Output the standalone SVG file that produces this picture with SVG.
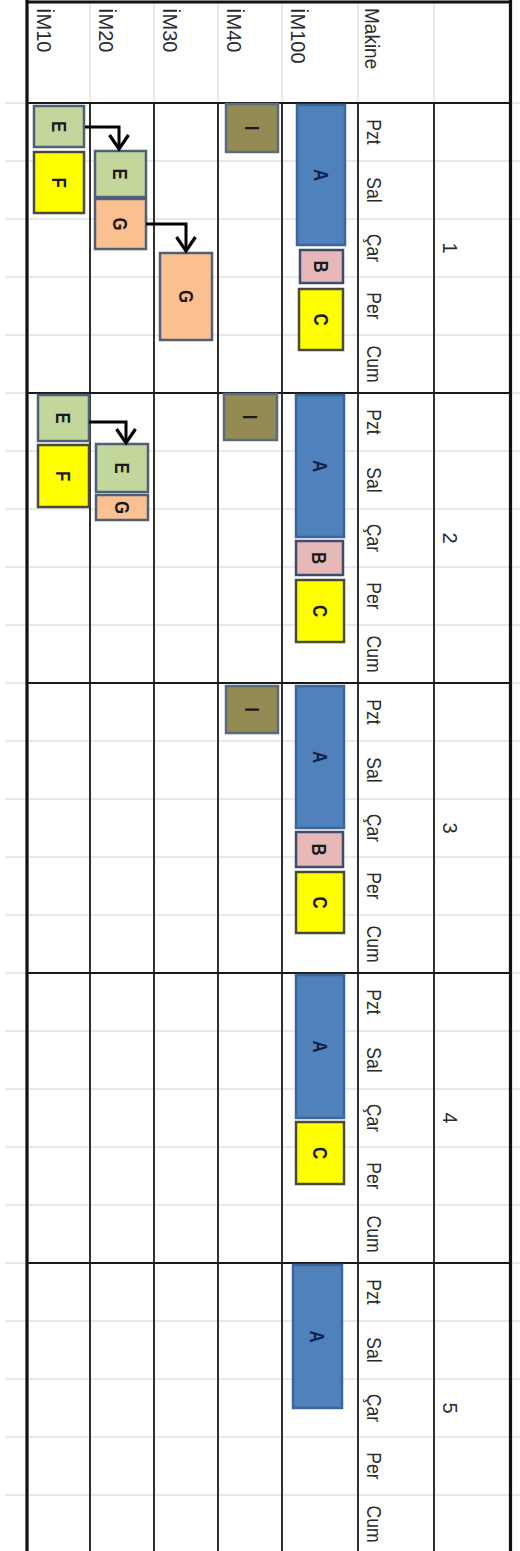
<svg xmlns="http://www.w3.org/2000/svg" width="520" height="1551" viewBox="0 0 520 1551">
<style>
.grid{stroke:#d4d4d4;stroke-width:1;fill:none}
.bk{stroke:#1a1a1a;stroke-width:1.8;fill:none}
.thick{stroke:#111;stroke-width:3.2;fill:none}
.hdr{font-family:"Liberation Sans",Arial,sans-serif;font-size:20px;fill:#2b2b2b}
.day{font-family:"Liberation Sans",Arial,sans-serif;font-size:20px;fill:#2b2b2b;text-anchor:middle}
.lbl{font-family:"Liberation Sans",Arial,sans-serif;font-weight:bold;font-size:21px;text-anchor:middle;fill:#1a1a1a}
.lblA{fill:#0f1f45}
.a{fill:#4f81bd;stroke:#3d6596;stroke-width:2.5}
.b{fill:#e6b9b8;stroke:#3f4d6b;stroke-width:2.5}
.c{fill:#ffff00;stroke:#4a4a3a;stroke-width:2.5}
.e{fill:#c3d69b;stroke:#4f5f78;stroke-width:2.5}
.g{fill:#fac090;stroke:#4f5f78;stroke-width:2.5}
.i{fill:#948a54;stroke:#5b6b7b;stroke-width:2.5}
.conn{fill:none;stroke:#000;stroke-width:3}
</style>
<defs>
<marker id="chev" viewBox="-16 -11 18 22" refX="0" refY="0" markerWidth="18" markerHeight="22" markerUnits="userSpaceOnUse" orient="auto" overflow="visible">
<path d="M-14,-9.5 L0,0 L-14,9.5" fill="none" stroke="#000" stroke-width="3.2"/>
</marker>
</defs>
<rect x="0" y="0" width="520" height="1551" fill="#fff"/>
<g id="grid">
<path class="grid" d="M5,103H520M5,161H520M5,219H520M5,277H520M5,335H520M5,393H520M5,451H520M5,509H520M5,567H520M5,625H520M5,683H520M5,741H520M5,799H520M5,857H520M5,915H520M5,973H520M5,1031H520M5,1089H520M5,1147H520M5,1205H520M5,1263H520M5,1321H520M5,1379H520M5,1437H520M5,1495H520"/>
<path class="grid" d="M90,2V103M154,2V103M218,2V103M282,2V103M358,2V103M434,2V103"/>
<path class="bk" d="M90,103V1551M154,103V1551M218,103V1551M282,103V1551M358,103V1551M434,103V1551"/>
<path class="bk" d="M27,103H510M27,393H510M27,683H510M27,973H510M27,1263H510"/>
<path class="thick" d="M27,0V1551M510.5,0V1551M25.5,2H512"/>
</g>
<g id="headers">
<text class="hdr" transform="translate(37,8) rotate(90)">İM10</text>
<text class="hdr" transform="translate(99,8) rotate(90)">İM20</text>
<text class="hdr" transform="translate(163,8) rotate(90)">İM30</text>
<text class="hdr" transform="translate(227,8) rotate(90)">İM40</text>
<text class="hdr" transform="translate(291,8) rotate(90)">İM100</text>
<text class="hdr" transform="translate(365,8) rotate(90) scale(0.95,1)">Makine</text>
<text class="day" transform="translate(443,248) rotate(90)">1</text>
<text class="day" transform="translate(443,538) rotate(90)">2</text>
<text class="day" transform="translate(443,828) rotate(90)">3</text>
<text class="day" transform="translate(443,1118) rotate(90)">4</text>
<text class="day" transform="translate(443,1408) rotate(90)">5</text>
</g>
<g id="days">
<text class="day" transform="translate(367,132) rotate(90) scale(0.88,1)">Pzt</text>
<text class="day" transform="translate(367,190) rotate(90) scale(0.88,1)">Sal</text>
<text class="day" transform="translate(367,248) rotate(90) scale(0.88,1)">Çar</text>
<text class="day" transform="translate(367,306) rotate(90) scale(0.88,1)">Per</text>
<text class="day" transform="translate(367,364) rotate(90) scale(0.88,1)">Cum</text>
<text class="day" transform="translate(367,422) rotate(90) scale(0.88,1)">Pzt</text>
<text class="day" transform="translate(367,480) rotate(90) scale(0.88,1)">Sal</text>
<text class="day" transform="translate(367,538) rotate(90) scale(0.88,1)">Çar</text>
<text class="day" transform="translate(367,596) rotate(90) scale(0.88,1)">Per</text>
<text class="day" transform="translate(367,654) rotate(90) scale(0.88,1)">Cum</text>
<text class="day" transform="translate(367,712) rotate(90) scale(0.88,1)">Pzt</text>
<text class="day" transform="translate(367,770) rotate(90) scale(0.88,1)">Sal</text>
<text class="day" transform="translate(367,828) rotate(90) scale(0.88,1)">Çar</text>
<text class="day" transform="translate(367,886) rotate(90) scale(0.88,1)">Per</text>
<text class="day" transform="translate(367,944) rotate(90) scale(0.88,1)">Cum</text>
<text class="day" transform="translate(367,1002) rotate(90) scale(0.88,1)">Pzt</text>
<text class="day" transform="translate(367,1060) rotate(90) scale(0.88,1)">Sal</text>
<text class="day" transform="translate(367,1118) rotate(90) scale(0.88,1)">Çar</text>
<text class="day" transform="translate(367,1176) rotate(90) scale(0.88,1)">Per</text>
<text class="day" transform="translate(367,1234) rotate(90) scale(0.88,1)">Cum</text>
<text class="day" transform="translate(367,1292) rotate(90) scale(0.88,1)">Pzt</text>
<text class="day" transform="translate(367,1350) rotate(90) scale(0.88,1)">Sal</text>
<text class="day" transform="translate(367,1408) rotate(90) scale(0.88,1)">Çar</text>
<text class="day" transform="translate(367,1466) rotate(90) scale(0.88,1)">Per</text>
<text class="day" transform="translate(367,1524) rotate(90) scale(0.88,1)">Cum</text>
</g>
<g id="w1-A"><rect class="a" x="297" y="105" width="48" height="140"/><text class="lbl lblA" transform="translate(313.5,175) rotate(90) scale(0.8,1)">A</text></g>
<g id="w1-B"><rect class="b" x="300" y="250" width="43" height="33"/><text class="lbl" transform="translate(314,266.5) rotate(90) scale(0.8,1)">B</text></g>
<g id="w1-C"><rect class="c" x="299" y="289" width="44" height="61"/><text class="lbl" transform="translate(313.5,319.5) rotate(90) scale(0.8,1)">C</text></g>
<g id="w1-I"><rect class="i" x="226" y="104" width="52" height="48"/><text class="lbl" transform="translate(244.5,128) rotate(90) scale(0.8,1)">I</text></g>
<g id="w1-E10"><rect class="e" x="34" y="106" width="50" height="41"/><text class="lbl" transform="translate(51.5,126.5) rotate(90) scale(0.8,1)">E</text></g>
<g id="w1-F10"><rect class="c" x="34" y="152" width="50" height="61"/><text class="lbl" transform="translate(51.5,182.5) rotate(90) scale(0.8,1)">F</text></g>
<g id="w1-E20"><rect class="e" x="95" y="151" width="51" height="46"/><text class="lbl" transform="translate(113,174) rotate(90) scale(0.8,1)">E</text></g>
<g id="w1-G20"><rect class="g" x="95" y="199" width="51" height="50"/><text class="lbl" transform="translate(113,224) rotate(90) scale(0.8,1)">G</text></g>
<g id="w1-G30"><rect class="g" x="160" y="253" width="52" height="87"/><text class="lbl" transform="translate(178.5,296.5) rotate(90) scale(0.8,1)">G</text></g>
<g id="w2-E10"><rect class="e" x="38" y="395" width="51" height="46"/><text class="lbl" transform="translate(56,418) rotate(90) scale(0.8,1)">E</text></g>
<g id="w2-F10"><rect class="c" x="38" y="445" width="51" height="62"/><text class="lbl" transform="translate(56,476) rotate(90) scale(0.8,1)">F</text></g>
<g id="w2-E20"><rect class="e" x="96" y="444" width="52" height="48"/><text class="lbl" transform="translate(114.5,468) rotate(90) scale(0.8,1)">E</text></g>
<g id="w2-G20"><rect class="g" x="96" y="495" width="52" height="25"/><text class="lbl" transform="translate(114.5,507.5) rotate(90) scale(0.8,1)">G</text></g>
<g id="w2-I"><rect class="i" x="224" y="394" width="53" height="46"/><text class="lbl" transform="translate(243,417) rotate(90) scale(0.8,1)">I</text></g>
<g id="w2-A"><rect class="a" x="296" y="395" width="48" height="142"/><text class="lbl lblA" transform="translate(312.5,466) rotate(90) scale(0.8,1)">A</text></g>
<g id="w2-B"><rect class="b" x="296" y="541" width="47" height="34"/><text class="lbl" transform="translate(312,558) rotate(90) scale(0.8,1)">B</text></g>
<g id="w2-C"><rect class="c" x="296" y="580" width="48" height="62"/><text class="lbl" transform="translate(312.5,611) rotate(90) scale(0.8,1)">C</text></g>
<g id="w3-I"><rect class="i" x="226" y="686" width="52" height="47"/><text class="lbl" transform="translate(244.5,709.5) rotate(90) scale(0.8,1)">I</text></g>
<g id="w3-A"><rect class="a" x="296" y="686" width="48" height="142"/><text class="lbl lblA" transform="translate(312.5,757) rotate(90) scale(0.8,1)">A</text></g>
<g id="w3-B"><rect class="b" x="296" y="832" width="47" height="35"/><text class="lbl" transform="translate(312,849.5) rotate(90) scale(0.8,1)">B</text></g>
<g id="w3-C"><rect class="c" x="296" y="872" width="48" height="61"/><text class="lbl" transform="translate(312.5,902.5) rotate(90) scale(0.8,1)">C</text></g>
<g id="w4-A"><rect class="a" x="296" y="975" width="48" height="143"/><text class="lbl lblA" transform="translate(312.5,1046.5) rotate(90) scale(0.8,1)">A</text></g>
<g id="w4-C"><rect class="c" x="296" y="1122" width="48" height="62"/><text class="lbl" transform="translate(312.5,1153) rotate(90) scale(0.8,1)">C</text></g>
<g id="w5-A"><rect class="a" x="293" y="1265" width="49" height="143"/><text class="lbl lblA" transform="translate(310,1336.5) rotate(90) scale(0.8,1)">A</text></g>
<g id="connectors">
<path class="conn" d="M85,127H119V149" marker-end="url(#chev)"/>
<path class="conn" d="M146,224H186V251" marker-end="url(#chev)"/>
<path class="conn" d="M89,422H126V443" marker-end="url(#chev)"/>
</g>
</svg>
